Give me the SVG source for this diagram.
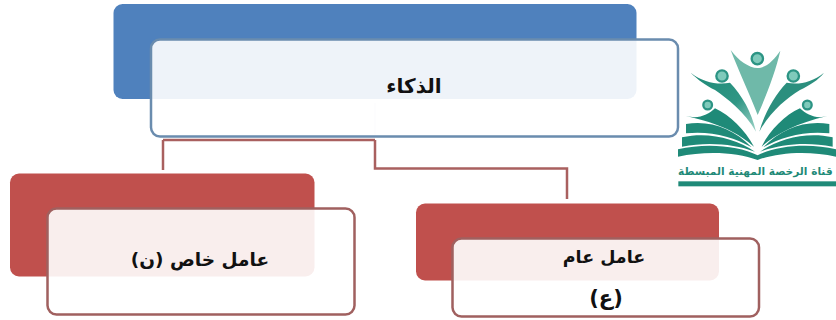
<svg xmlns="http://www.w3.org/2000/svg" width="836" height="320" viewBox="0 0 836 320">
<style>
.bk{fill:#c0504d}
.fr{fill:#fff;fill-opacity:.9;stroke:#a0605f;stroke-width:2.5}
.t{font-family:"DejaVu Sans",sans-serif;font-weight:bold;fill:#111;text-anchor:middle}
.c{fill:none;stroke:#a9605f;stroke-width:2.5}
.g{fill:#1f8a78}
.l{fill:#7fcabb;stroke:#2c9484;stroke-width:7}
</style>
<defs>
<linearGradient id="side" x1="0" y1="0" x2="1" y2="1"><stop offset="0" stop-color="#1f8a78"/><stop offset=".6" stop-color="#2f9684"/><stop offset="1" stop-color="#9fd4c8"/></linearGradient>
</defs>
<rect width="836" height="320" fill="#fff"/>
<g id="connectors">
<path class="c" d="M163 140V170"/>
<path class="c" d="M163 140H375M375 140V168.500H567V199"/>
<path d="M375 103V137" fill="none" stroke="#e6e6ec" stroke-width="1.500"/>
</g>
<g id="node-root">
<rect x="113.500" y="4" width="523" height="95" rx="9" fill="#4f81bd"/>
<rect x="151" y="39.500" width="527" height="97" rx="9" fill="#fff" fill-opacity=".9" stroke="#6a8cae" stroke-width="2.500"/>
<text class="t" x="414" y="93" font-size="20" direction="rtl">الذكاء</text>
</g>
<g id="node-special">
<rect x="10" y="173.500" width="304.500" height="103" rx="9" class="bk"/>
<rect x="47.500" y="208.500" width="307" height="106" rx="9" class="fr"/>
<text class="t" x="200" y="266" font-size="18.500" direction="rtl">عامل خاص (ن)</text>
</g>
<g id="node-general">
<rect x="416" y="203.500" width="303" height="77" rx="9" class="bk"/>
<rect x="452.500" y="238.500" width="306.500" height="78" rx="9" class="fr"/>
<text class="t" x="604" y="263" font-size="17.500" direction="rtl">عامل عام</text>
<text class="t" x="606" y="305" font-size="21" direction="rtl">(ع)</text>
</g>
<g id="logo" transform="translate(670 40) scale(.33333)">
<circle cx="262" cy="56" r="17" class="l"/>
<circle cx="156" cy="108" r="17" class="l"/>
<circle cx="370" cy="108" r="17" class="l"/>
<circle cx="113" cy="195" r="13" class="l"/>
<circle cx="412" cy="195" r="13" class="l"/>
<path d="M182 30C205 62 238 84 262 84C288 84 312 60 331 32C318 90 292 160 263 225C238 160 205 90 182 30Z" fill="#6fb9a9"/>
<path d="M62 98C100 128 145 135 180 128C215 165 245 215 258 275C225 215 170 175 135 150C105 135 85 120 62 98Z" fill="url(#side)"/>
<path d="M462 98C425 128 385 135 350 128C315 165 285 215 268 275C300 215 350 175 390 150C420 135 445 120 462 98Z" fill="#2b8f7e"/>
<path d="M48 228C85 238 115 225 135 205C180 225 225 270 252 320C205 280 150 250 48 228Z" class="g"/>
<path d="M472 228C440 238 410 225 390 205C345 225 300 270 275 320C320 280 380 250 472 228Z" class="g"/>
<path d="M48 252C120 240 190 265 245 322C190 290 120 272 48 280Z" class="g"/>
<path d="M478 252C405 240 335 265 280 322C335 290 405 272 478 280Z" class="g"/>
<path d="M36 292C115 275 195 295 255 335C190 312 115 305 36 320Z" class="g"/>
<path d="M488 292C410 275 330 295 270 335C335 312 410 305 488 320Z" class="g"/>
<path d="M24 328C105 308 205 316 263 346C320 316 420 308 498 328V350C420 332 325 336 263 360C200 336 105 332 24 350Z" class="g"/>
<text x="256" y="404" direction="rtl" text-anchor="middle" font-family="'DejaVu Sans',sans-serif" font-weight="bold" font-size="32" fill="#1f8a78" textLength="464" lengthAdjust="spacingAndGlyphs">قناة الرخصة المهنية المبسطة</text>
<rect x="25" y="424" width="473" height="15" fill="#1f8a78"/>
</g>
</svg>
